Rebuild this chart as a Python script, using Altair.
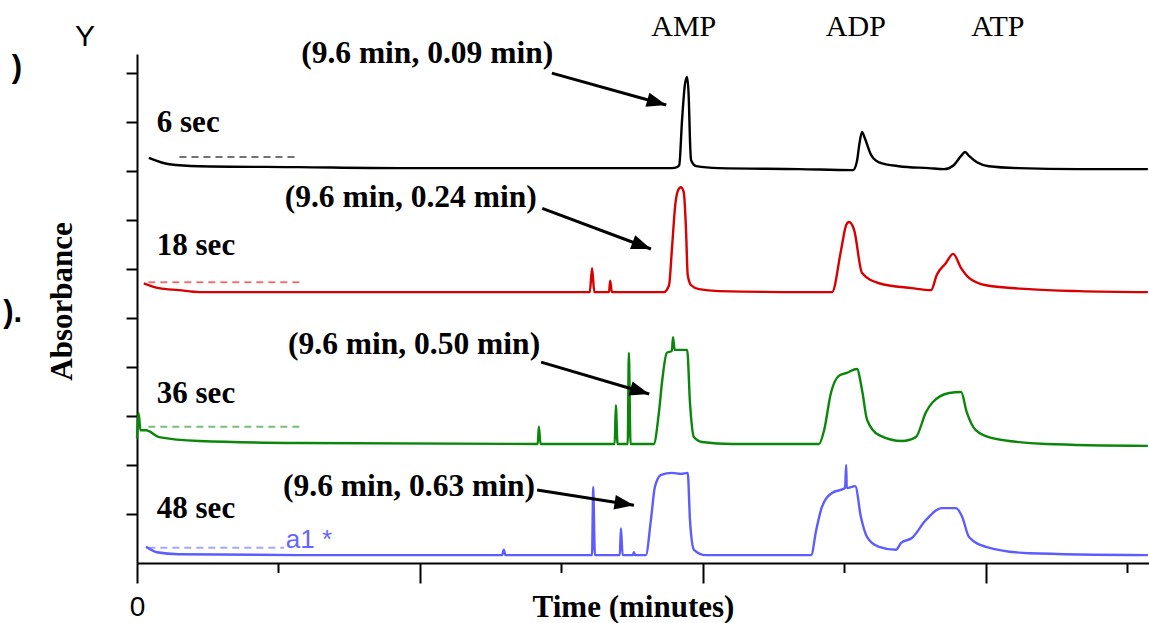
import altair as alt
import pandas as pd

# ---- chromatogram traces: retention time (min) vs absorbance, offset per run ----
runs = ["6 sec", "18 sec", "36 sec", "48 sec"]
colors = ["#000000", "#d80000", "#0a870a", "#5c5cff"]

t_6s = [0.21, 0.57, 1.10, 2.86, 4.63, 6.40, 8.16, 9.45, 9.54, 9.58, 9.63, 9.68, 9.72,
        9.75, 9.77, 9.79, 9.88, 10.28, 11.70, 12.65, 12.72, 12.76, 12.81, 12.86, 12.97,
        13.11, 13.46, 13.99, 14.26, 14.43, 14.56, 14.63, 14.70, 14.84, 15.05, 15.58,
        16.64, 17.86]
a_6s = [0.827, 0.814, 0.810, 0.808, 0.806, 0.806, 0.806, 0.806, 0.808, 0.812, 0.904,
        0.976, 0.992, 0.945, 0.863, 0.822, 0.810, 0.806, 0.804, 0.802, 0.820, 0.853,
        0.880, 0.867, 0.833, 0.818, 0.810, 0.806, 0.804, 0.812, 0.831, 0.839, 0.831,
        0.818, 0.810, 0.806, 0.804, 0.804]

t_18s = [0.12, 0.39, 0.74, 1.10, 4.63, 8.00, 8.04, 8.08, 8.34, 8.36, 8.39, 9.31, 9.40,
         9.45, 9.51, 9.56, 9.61, 9.66, 9.70, 9.73, 9.79, 9.93, 10.28, 11.70, 12.28,
         12.44, 12.53, 12.58, 12.67, 12.81, 13.11, 13.69, 14.03, 14.13, 14.29, 14.42,
         14.56, 14.70, 15.00, 15.76, 16.64, 17.86]
a_18s = [0.571, 0.561, 0.557, 0.553, 0.553, 0.553, 0.602, 0.553, 0.553, 0.576, 0.553,
         0.553, 0.567, 0.639, 0.731, 0.761, 0.767, 0.757, 0.680, 0.588, 0.567, 0.559,
         0.555, 0.553, 0.553, 0.639, 0.690, 0.696, 0.680, 0.592, 0.571, 0.561, 0.557,
         0.588, 0.612, 0.631, 0.602, 0.582, 0.567, 0.559, 0.555, 0.553]

t_36s = [0.00, 0.03, 0.06, 0.16, 0.39, 1.10, 2.86, 7.08, 7.10, 7.13, 8.44, 8.46, 8.49,
         8.67, 8.69, 8.72, 9.13, 9.22, 9.28, 9.36, 9.45, 9.47, 9.50, 9.72, 9.77, 9.84,
         9.98, 10.51, 12.05, 12.14, 12.26, 12.40, 12.54, 12.72, 12.81, 12.90, 13.11,
         13.52, 13.76, 13.94, 14.05, 14.35, 14.56, 14.66, 14.82, 15.11, 16.06, 17.86]
a_36s = [0.255, 0.306, 0.271, 0.271, 0.257, 0.249, 0.245, 0.243, 0.278, 0.243, 0.243,
         0.322, 0.243, 0.243, 0.429, 0.243, 0.243, 0.306, 0.373, 0.429, 0.433, 0.461,
         0.435, 0.435, 0.327, 0.257, 0.247, 0.243, 0.243, 0.271, 0.347, 0.382, 0.388,
         0.396, 0.353, 0.292, 0.261, 0.249, 0.257, 0.308, 0.327, 0.347, 0.349, 0.308,
         0.271, 0.255, 0.243, 0.239]

t_48s = [0.16, 0.35, 0.74, 2.86, 6.45, 6.48, 6.51, 8.04, 8.06, 8.09, 8.53, 8.55, 8.58,
         8.76, 8.78, 8.80, 8.99, 9.08, 9.15, 9.26, 9.45, 9.61, 9.73, 9.77, 9.84, 10.05,
         11.91, 12.00, 12.10, 12.28, 12.51, 12.53, 12.54, 12.69, 12.79, 12.90, 13.11,
         13.41, 13.50, 13.69, 13.94, 14.22, 14.47, 14.58, 14.70, 15.00, 15.76, 17.86]
a_48s = [0.033, 0.022, 0.018, 0.016, 0.016, 0.027, 0.016, 0.016, 0.155, 0.016, 0.016,
         0.071, 0.016, 0.016, 0.022, 0.016, 0.016, 0.088, 0.155, 0.180, 0.184, 0.182,
         0.184, 0.088, 0.027, 0.016, 0.016, 0.067, 0.114, 0.143, 0.153, 0.200, 0.153,
         0.157, 0.094, 0.053, 0.033, 0.027, 0.041, 0.051, 0.088, 0.112, 0.112, 0.094,
         0.053, 0.033, 0.020, 0.016]

# clipped instrument labels sitting on the start of each trace
ghost_t0 = [0.75, 0.20, 0.20, 0.20]
ghost_t1 = [2.86, 2.95, 2.95, 2.60]
ghost_a = [0.829, 0.573, 0.278, 0.031]

# peak names above the plot
peak_names = ["AMP", "ADP", "ATP"]
peak_t = [9.66, 12.70, 15.21]

# (retention time, peak width) callouts and run labels
callout_text = ["(9.6 min, 0.09 min)", "(9.6 min, 0.24 min)",
                "(9.6 min, 0.50 min)", "(9.6 min, 0.63 min)"]
callout_t = [2.90, 2.61, 2.67, 2.58]
callout_a = [1.020, 0.727, 0.427, 0.137]
run_label_a = [0.880, 0.629, 0.327, 0.092]

# arrows from each callout to the AMP peak
arrow_t0 = [7.33, 7.16, 7.14, 7.07]
arrow_a0 = [1.000, 0.724, 0.410, 0.149]
arrow_t1 = [9.35, 9.08, 9.05, 8.78]
arrow_a1 = [0.935, 0.641, 0.345, 0.118]
arrow_angle = [15.7, 20.6, 16.5, 8.8]

W, H = 1012, 509
SERIF = "Liberation Serif"
SANS = "Liberation Sans"

x_scale = alt.Scale(domain=[0, 17.88], nice=False, zero=False)
y_scale = alt.Scale(domain=[0, 1.039], nice=False, zero=False)
color_scale = alt.Scale(domain=runs, range=colors)

frames = []
for run, ts, ab in zip(runs, [t_6s, t_18s, t_36s, t_48s], [a_6s, a_18s, a_36s, a_48s]):
    frames.append(pd.DataFrame({"t": ts, "a": ab, "run": run, "i": range(len(ts))}))
traces = pd.concat(frames, ignore_index=True)

lines = alt.Chart(traces).mark_line(strokeWidth=2.4, interpolate="monotone").encode(
    x=alt.X("t:Q", scale=x_scale, axis=alt.Axis(
        values=[0, 5, 10, 15], tickSize=20, tickWidth=2, tickColor="black",
        domainColor="black", domainWidth=2, grid=False, labelFlush=False,
        labelExpr="datum.value == 0 ? '0' : ''", labelFont=SANS, labelFontSize=28,
        labelColor="black", labelPadding=10,
        title="Time (minutes)", titleFont=SERIF, titleFontWeight="bold",
        titleFontSize=31, titleColor="black", titleX=496, titleY=29,
        titleBaseline="top")),
    y=alt.Y("a:Q", scale=y_scale, axis=alt.Axis(
        values=[0.1, 0.2, 0.3, 0.4, 0.5, 0.6, 0.7, 0.8, 0.9, 1.0], tickSize=11,
        tickWidth=2, tickColor="black", domainColor="black", domainWidth=2,
        grid=False, labels=False,
        title="Absorbance", titleFont=SERIF, titleFontWeight="bold",
        titleFontSize=31, titleColor="black", titlePadding=47, titleY=247)),
    color=alt.Color("run:N", scale=color_scale, legend=None),
    order="i:Q",
)

ghosts = alt.Chart(pd.DataFrame({"t0": ghost_t0, "t1": ghost_t1, "a": ghost_a, "run": runs})).mark_rule(
    strokeWidth=2, strokeDash=[7, 5], opacity=0.55
).encode(
    x=alt.X("t0:Q", scale=x_scale),
    x2="t1:Q",
    y=alt.Y("a:Q", scale=y_scale),
    color=alt.Color("run:N", scale=color_scale, legend=None),
)

minor = alt.Chart(pd.DataFrame({"t": [2.5, 7.5, 12.5, 17.5]})).mark_rule(
    color="black", strokeWidth=2
).encode(
    x=alt.X("t:Q", scale=x_scale),
    y=alt.value(H), y2=alt.value(H + 10),
)

peaks = alt.Chart(pd.DataFrame({"t": peak_t, "name": peak_names})).mark_text(
    font=SERIF, fontSize=30, color="black", align="center", baseline="alphabetic"
).encode(
    x=alt.X("t:Q", scale=x_scale),
    y=alt.value(-18),
    text="name:N",
)

callouts = alt.Chart(pd.DataFrame({"t": callout_t, "a": callout_a, "txt": callout_text})).mark_text(
    font=SERIF, fontSize=31.5, fontWeight="bold", color="black", align="left",
    baseline="alphabetic"
).encode(
    x=alt.X("t:Q", scale=x_scale),
    y=alt.Y("a:Q", scale=y_scale),
    text="txt:N",
)

run_labels = alt.Chart(pd.DataFrame({"t": [0.35] * 4, "a": run_label_a, "run": runs})).mark_text(
    font=SERIF, fontSize=31, fontWeight="bold", color="black", align="left",
    baseline="alphabetic"
).encode(
    x=alt.X("t:Q", scale=x_scale),
    y=alt.Y("a:Q", scale=y_scale),
    text="run:N",
)

arrows_df = pd.DataFrame({"t0": arrow_t0, "a0": arrow_a0, "t1": arrow_t1,
                          "a1": arrow_a1, "ang": arrow_angle})
shafts = alt.Chart(arrows_df).mark_rule(color="black", strokeWidth=3).encode(
    x=alt.X("t0:Q", scale=x_scale),
    y=alt.Y("a0:Q", scale=y_scale),
    x2="t1:Q", y2="a1:Q",
)
heads = alt.Chart(arrows_df).mark_point(
    shape="M 0 0 L -2 -0.75 L -2 0.75 Z", filled=True, size=380, color="black",
    opacity=1, strokeWidth=0
).encode(
    x=alt.X("t1:Q", scale=x_scale),
    y=alt.Y("a1:Q", scale=y_scale),
    angle=alt.Angle("ang:Q", scale=None),
)

# stray axis text left over from the instrument export
stray_black = alt.Chart(pd.DataFrame({
    "t": [-0.92], "a": [1.055], "txt": ["Y"]})).mark_text(
    font=SANS, fontSize=30, color="black", align="center", baseline="alphabetic"
).encode(
    x=alt.X("t:Q", scale=x_scale),
    y=alt.Y("a:Q", scale=y_scale),
    text="txt:N",
)
stray_clip = alt.Chart(pd.DataFrame({
    "t": [-2.03, -2.03], "a": [0.992, 0.492], "txt": [")", ")."]})).mark_text(
    font=SANS, fontSize=31, fontWeight="bold", color="black", align="right",
    baseline="alphabetic"
).encode(
    x=alt.X("t:Q", scale=x_scale),
    y=alt.Y("a:Q", scale=y_scale),
    text="txt:N",
)
stray_blue = alt.Chart(pd.DataFrame({
    "t": [2.63], "a": [0.031], "txt": ["a1 *"]})).mark_text(
    font=SANS, fontSize=26, color="#6666ff", align="left", baseline="alphabetic"
).encode(
    x=alt.X("t:Q", scale=x_scale),
    y=alt.Y("a:Q", scale=y_scale),
    text="txt:N",
)

chart = alt.layer(
    lines, ghosts, minor, shafts, heads, peaks, callouts, run_labels,
    stray_black, stray_clip, stray_blue,
).properties(
    width=W, height=H,
    autosize=alt.AutoSizeParams(type="none"),
    padding={"left": 137, "top": 54, "right": 0, "bottom": 60},
    background="white",
).configure_view(stroke=None)

chart.save("out.html", embed_options={"renderer": "svg", "actions": False})
